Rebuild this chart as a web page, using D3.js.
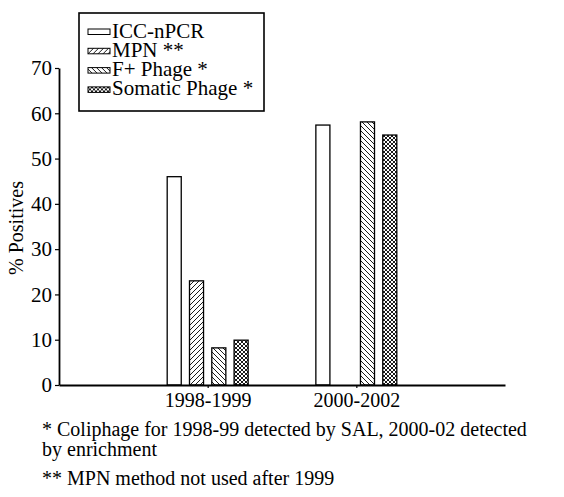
<!DOCTYPE html>
<html>
<head>
<meta charset="utf-8">
<script src="https://cdn.jsdelivr.net/npm/d3@7"></script>
</head>
<body style="margin:0; background:#fff">
<div id="chart-area"></div>
<script>
const periods = ["1998-1999", "2000-2002"];
const methods = ["ICC-nPCR", "MPN **", "F+ Phage *", "Somatic Phage *"];
const iccPcr = [46.0, 57.4];
const mpn = [23.0, null];
const fPhage = [8.2, 58.1];
const somaticPhage = [9.9, 55.2];
const yTicks = [0, 10, 20, 30, 40, 50, 60, 70];
const footnotes = [
  "* Coliphage for 1998-99 detected by SAL, 2000-02 detected",
  "by enrichment",
  "** MPN method not used after 1999"
];

const series = [iccPcr, mpn, fPhage, somaticPhage];
const fills = ["#fff", "url(#fwd)", "url(#back)", "url(#cross)"];
const serif = "'Liberation Serif'";

const width = 564, height = 497;
const plot = { left: 59, right: 505, top: 68, bottom: 385 };

const svg = d3.select("#chart-area")
  .append("svg")
    .attr("width", width)
    .attr("height", height);

// hatch patterns
const defs = svg.append("defs");
function hatch(id, size, d) {
  defs.append("pattern")
    .attr("id", id)
    .attr("patternUnits", "userSpaceOnUse")
    .attr("width", size)
    .attr("height", size)
    .append("path")
      .attr("d", d)
      .attr("stroke", "#000")
      .attr("stroke-width", 0.9)
      .attr("fill", "none");
}
hatch("fwd", 5, "M0,5L5,0M-1,1L1,-1M4,6L6,4");
hatch("back", 5, "M0,0L5,5M-1,4L1,6M4,-1L6,1");
hatch("cross", 4, "M0,4L4,0M-1,1L1,-1M3,5L5,3M0,0L4,4M-1,3L1,5M3,-1L5,1");

const x0 = d3.scalePoint()
  .domain(["start", ...periods, "end"])
  .range([plot.left, plot.right]);

const x1 = d3.scaleBand()
  .domain(methods)
  .range([-44.6, 44.6])
  .paddingInner(0.37)
  .paddingOuter(0.185);

const y = d3.scaleLinear()
  .domain([0, 70])
  .range([plot.bottom, plot.top]);

// bars
const rows = [];
periods.forEach((p, i) => {
  methods.forEach((m, j) => {
    if (series[j][i] != null) rows.push({ period: p, method: m, value: series[j][i], fill: fills[j] });
  });
});

svg.selectAll("rect.bar").data(rows)
  .enter()
  .append("rect")
    .attr("class", "bar")
    .attr("x", (d) => x0(d.period) + x1(d.method))
    .attr("y", (d) => y(d.value))
    .attr("width", x1.bandwidth())
    .attr("height", (d) => y(0) - y(d.value))
    .attr("fill", (d) => d.fill)
    .attr("stroke", "#000")
    .attr("stroke-width", 1.3);

// axes
const yAxisCall = d3.axisLeft(y)
  .tickValues(yTicks)
  .tickSize(4)
  .tickSizeOuter(0)
  .tickPadding(3);
const yAxis = svg.append("g")
  .attr("class", "y axis")
  .attr("transform", "translate(" + plot.left + ",0)")
  .call(yAxisCall);
yAxis.selectAll("text")
  .style("font-family", serif)
  .style("font-size", "21px")
  .attr("fill", "#000");
yAxis.select(".domain").attr("stroke-width", 1.8);
yAxis.selectAll(".tick line").attr("stroke-width", 1.2);

const xAxisCall = d3.axisBottom(x0)
  .tickValues(periods)
  .tickSize(3)
  .tickSizeOuter(0)
  .tickPadding(5);
const xAxis = svg.append("g")
  .attr("class", "x axis")
  .attr("transform", "translate(0," + plot.bottom + ")")
  .call(xAxisCall);
xAxis.selectAll("text")
  .style("font-family", serif)
  .style("font-size", "20px")
  .attr("fill", "#000");
xAxis.select(".domain").attr("stroke-width", 2);
xAxis.selectAll(".tick line").attr("stroke-width", 1.2);

// y label
svg.append("text")
  .attr("transform", "translate(23,228) rotate(-90)")
  .attr("text-anchor", "middle")
  .style("font-family", serif)
  .style("font-size", "20px")
  .text("% Positives");

// legend
const legend = svg.append("g").attr("class", "legend");
legend.append("rect")
  .attr("x", 79)
  .attr("y", 13)
  .attr("width", 185)
  .attr("height", 98)
  .attr("fill", "#fff")
  .attr("stroke", "#000")
  .attr("stroke-width", 1.6);

const items = legend.selectAll("g.item").data(methods)
  .enter()
  .append("g")
    .attr("class", "item")
    .attr("transform", (d, i) => "translate(0," + (37.5 + i * 19.3) + ")");
items.append("rect")
  .attr("x", 88)
  .attr("y", -8.5)
  .attr("width", 22)
  .attr("height", 5.5)
  .attr("fill", (d, i) => fills[i])
  .attr("stroke", "#000")
  .attr("stroke-width", 1);
items.append("text")
  .attr("x", 112)
  .style("font-family", serif)
  .style("font-size", "21px")
  .text((d) => d);

// footnotes
const noteY = [436, 456, 485];
svg.selectAll("text.note").data(footnotes)
  .enter()
  .append("text")
    .attr("class", "note")
    .attr("x", 42)
    .attr("y", (d, i) => noteY[i])
    .style("font-family", serif)
    .style("font-size", "20px")
    .text((d) => d);
</script>
</body>
</html>
